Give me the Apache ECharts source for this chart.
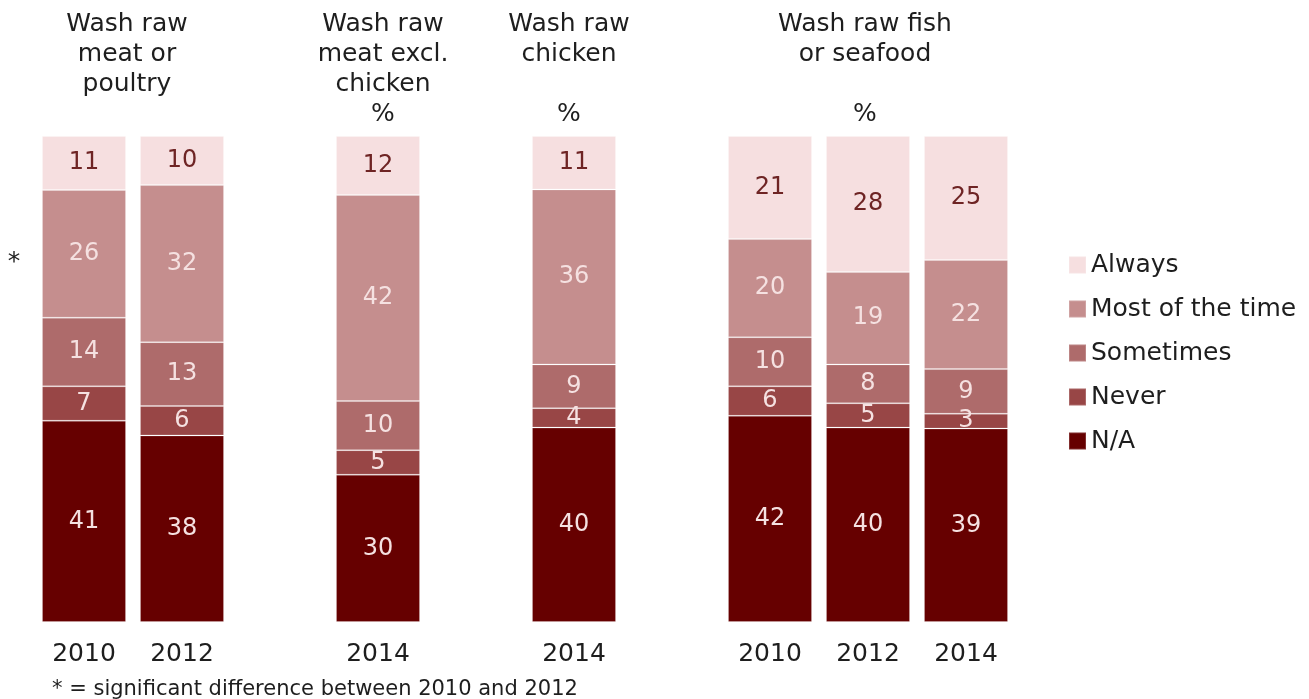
<!DOCTYPE html>
<html>
<head>
<meta charset="utf-8">
<script src="https://cdn.jsdelivr.net/npm/echarts@6/dist/echarts.min.js"></script>
<style>
  html, body { margin: 0; padding: 0; background: #fff; }
  #chart { width: 1309px; height: 699px; }
</style>
</head>
<body>
<div id="chart"></div>
<script>
// one slot per bar, empty slots keep the groups apart
const categories = ['2010', '2012', '', '2014', '', '2014', '', '2010', '2012', '2014'];

const naValues        = [41, 38, null, 30, null, 40, null, 42, 40, 39];
const neverValues     = [7, 6, null, 5, null, 4, null, 6, 5, 3];
const sometimesValues = [14, 13, null, 10, null, 9, null, 10, 8, 9];
const mostValues      = [26, 32, null, 42, null, 36, null, 20, 19, 22];
const alwaysValues    = [11, 10, null, 12, null, 11, null, 21, 28, 25];

const legendOrder = ['Always', 'Most of the time', 'Sometimes', 'Never', 'N/A'];

const groupTitles = [
  'Wash raw\nmeat or\npoultry',
  'Wash raw\nmeat excl.\nchicken\n%',
  'Wash raw\nchicken\n\n%',
  'Wash raw fish\nor seafood\n\n%'
];
const titleX = [127, 383, 569, 865];

const footnote = '* = significant difference between 2010 and 2012';

const FONT = '"DejaVu Sans", "Liberation Sans", Arial, sans-serif';

// stacked bottom -> top
const layers = [
  { name: 'N/A', values: naValues, color: '#660000', text: '#f5e1e1' },
  { name: 'Never', values: neverValues, color: '#984646', text: '#f5e1e1' },
  { name: 'Sometimes', values: sometimesValues, color: '#ae6b6b', text: '#f5e1e1' },
  { name: 'Most of the time', values: mostValues, color: '#c58e8e', text: '#f5e1e1' },
  { name: 'Always', values: alwaysValues, color: '#f6dfe0', text: '#6e2424' }
];

// rounded numbers don't always sum to 100, so scale each bar to full height
const totals = categories.map((c, i) =>
  layers.reduce((s, l) => s + (l.values[i] || 0), 0)
);

let myChart = echarts.init(document.getElementById('chart'));

const series = layers.map(l => ({
  name: l.name,
  type: 'bar',
  stack: 'total',
  barWidth: 84,
  itemStyle: {
    color: l.color,
    borderColor: 'rgba(255,255,255,0.18)',
    borderWidth: 1
  },
  label: {
    show: true,
    position: 'inside',
    color: l.text,
    fontFamily: FONT,
    fontSize: 24,
    formatter: p => (p.data.raw == null ? '' : String(p.data.raw))
  },
  data: l.values.map((v, i) =>
    v == null ? { value: null, raw: null } : { value: (v / totals[i]) * 100, raw: v }
  )
}));

const graphic = groupTitles.map((t, i) => ({
  type: 'text',
  x: titleX[i],
  y: 9,
  style: {
    text: t,
    fill: '#1e1e1e',
    font: '25px ' + FONT,
    textAlign: 'center',
    textVerticalAlign: 'top',
    lineHeight: 30
  }
}));

graphic.push({
  type: 'text',
  x: 14,
  y: 262,
  style: {
    text: '*',
    fill: '#1e1e1e',
    font: '25px ' + FONT,
    textAlign: 'center',
    textVerticalAlign: 'middle'
  }
});

graphic.push({
  type: 'text',
  x: 52,
  y: 690,
  style: {
    text: footnote,
    fill: '#1e1e1e',
    font: '21px ' + FONT,
    textAlign: 'left',
    textVerticalAlign: 'middle'
  }
});

let option = {
  animation: false,
  backgroundColor: '#fff',
  grid: {
    left: 35,
    top: 136,
    width: 980,
    height: 486,
    containLabel: false
  },
  legend: {
    orient: 'vertical',
    left: 1063,
    top: 247,
    data: legendOrder,
    icon: 'rect',
    itemWidth: 17,
    itemHeight: 17,
    itemGap: 18,
    textStyle: {
      fontFamily: FONT,
      fontSize: 25,
      lineHeight: 26,
      color: '#1e1e1e'
    }
  },
  xAxis: {
    type: 'category',
    data: categories,
    axisLine: { show: false },
    axisTick: { show: false },
    axisLabel: {
      interval: 0,
      margin: 20,
      fontFamily: FONT,
      fontSize: 25,
      color: '#1e1e1e'
    }
  },
  yAxis: {
    type: 'value',
    min: 0,
    max: 100,
    show: false
  },
  graphic: graphic,
  series: series
};

myChart.setOption(option);
</script>
</body>
</html>
